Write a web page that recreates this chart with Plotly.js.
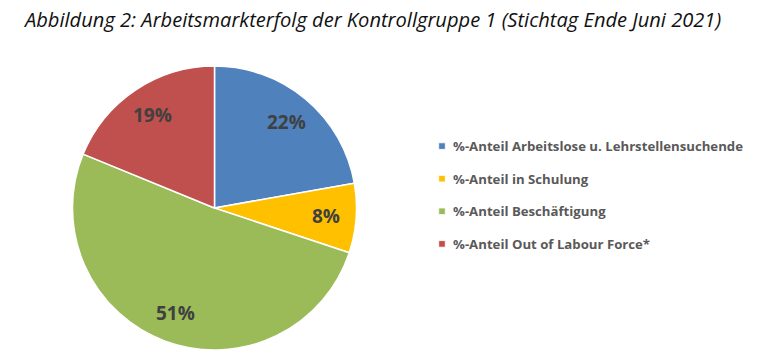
<!DOCTYPE html>
<html>
<head>
<meta charset="utf-8">
<script src="https://cdn.plot.ly/plotly-3.0.1.min.js"></script>
<style>html,body{margin:0;padding:0;background:#fff;}#chart{width:772px;height:363px;}</style>
</head>
<body>
<div id="chart"></div>
<script>
const categories = [
  "%-Anteil Arbeitslose u. Lehrstellensuchende",
  "%-Anteil in Schulung",
  "%-Anteil Beschäftigung",
  "%-Anteil Out of Labour Force*"
];
const shares = [22.2, 7.9, 51.1, 18.8];
const sliceColors = ["#4F81BD", "#FFC000", "#9BBB59", "#C0504D"];
const chartTitle = "Abbildung 2: Arbeitsmarkterfolg der Kontrollgruppe 1 (Stichtag Ende Juni 2021)";

const W = 772, H = 363;
const cx = 214.5, cy = 208, R = 142;
const labelRadius = 0.79;

const trace = {
  type: "pie",
  labels: categories,
  values: shares,
  sort: false,
  direction: "clockwise",
  rotation: 0,
  marker: { colors: sliceColors, line: { color: "#ffffff", width: 1.5 } },
  textinfo: "none",
  hoverinfo: "none",
  domain: { x: [(cx - R) / W, (cx + R) / W], y: [1 - (cy + R) / H, 1 - (cy - R) / H] }
};

// percentage labels placed on each slice's bisector (Excel style), derived from the data
const total = shares.reduce((a, b) => a + b, 0);
let cum = 0;
const annotations = shares.map((v) => {
  const mid = (cum + v / 2) / total * 2 * Math.PI;
  cum += v;
  const px = cx + Math.sin(mid) * R * labelRadius;
  const py = cy - Math.cos(mid) * R * labelRadius;
  return {
    text: Math.round(v / total * 100) + "%",
    x: px / W, y: 1 - py / H, xref: "paper", yref: "paper",
    xanchor: "center", yanchor: "middle", showarrow: false,
    font: { family: "Open Sans", size: 19, color: "#404040", weight: "bold" }
  };
});

const layout = {
  width: W, height: H,
  margin: { l: 0, r: 0, t: 0, b: 0 },
  paper_bgcolor: "#ffffff",
  title: {
    text: chartTitle,
    font: { family: "Open Sans", size: 20.1, color: "#111111", style: "italic" },
    x: 25 / W, xanchor: "left", xref: "paper",
    y: 1 - 20 / H, yanchor: "middle", yref: "paper"
  },
  annotations: annotations,
  showlegend: true,
  legend: {
    x: 418 / W, xanchor: "left",
    y: 1 - 131 / H, yanchor: "top",
    font: { family: "Open Sans", size: 13.2, color: "#595959", weight: "bold" },
    bgcolor: "rgba(0,0,0,0)", borderwidth: 0
  }
};

Plotly.newPlot("chart", [trace], layout, { staticPlot: true, displayModeBar: false }).then(() => {
  const rowGap = 32.6;
  const sb = document.querySelector(".legend .scrollbox");
  if (sb) sb.removeAttribute("clip-path");
  const items = document.querySelectorAll(".legend .traces");
  let y0 = null;
  items.forEach((g, i) => {
    const m = /translate\(([-\d.]+)[ ,]+([-\d.]+)\)/.exec(g.getAttribute("transform") || "");
    const x = m ? parseFloat(m[1]) : 0;
    const y = m ? parseFloat(m[2]) : 0;
    if (y0 === null) y0 = y;
    g.setAttribute("transform", "translate(" + x + "," + (y0 + i * rowGap) + ")");
    const sym = g.querySelector(".legendpoints path");
    if (sym) sym.setAttribute("transform", "translate(24,0) scale(0.55)");
    const t = g.querySelector(".legendtext");
    if (t) t.setAttribute("x", "35");
  });
});
</script>
</body>
</html>
